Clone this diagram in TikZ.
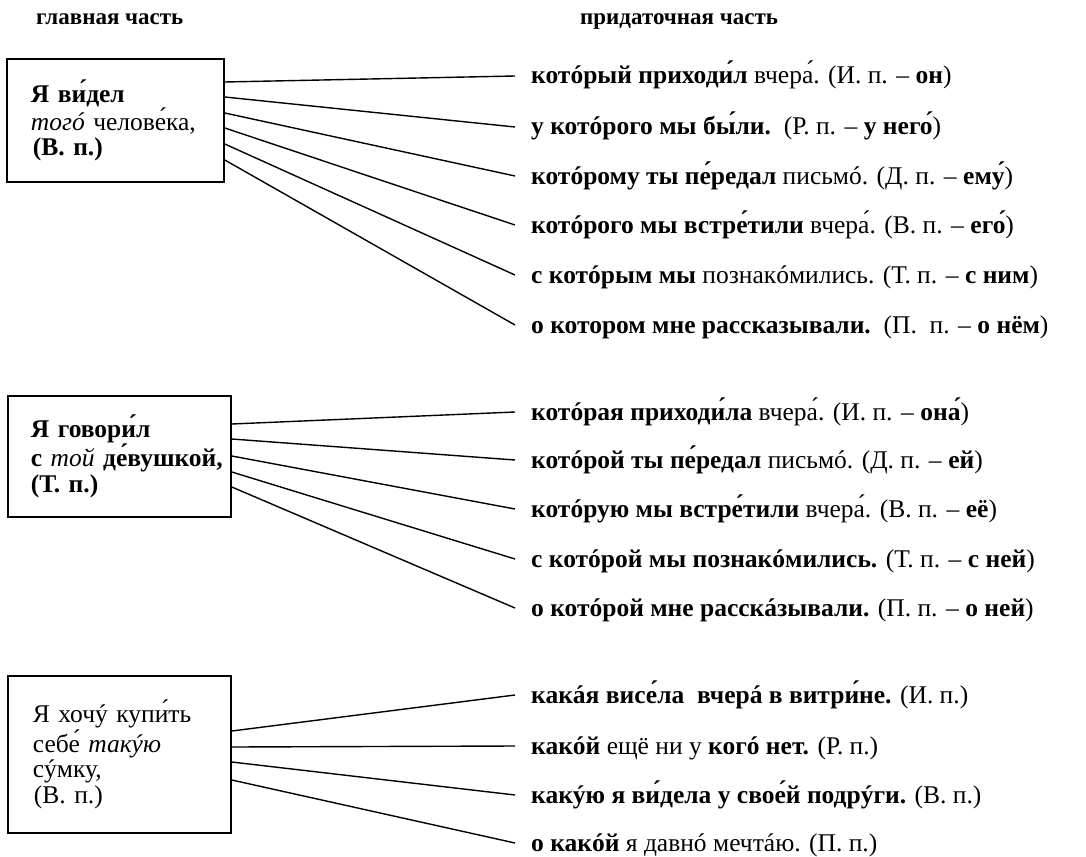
\documentclass[tikz,border=0pt]{standalone}
\usepackage{fontspec}
\setmainfont{Liberation Serif}
\begin{document}
\begin{tikzpicture}[x=1pt,y=-1pt,
  conn/.style={line width=1.4pt},
  boxnode/.style={draw, line width=1.8pt, anchor=north west, inner xsep=0pt, inner ysep=0pt,
     align=left, font=\fontsize{25.5}{25.5}\selectfont},
  rowtext/.style={anchor=base west, inner sep=0pt, font=\fontsize{25.5}{28}\selectfont},
  headtext/.style={anchor=base west, inner sep=0pt, font=\fontsize{23}{26}\selectfont\bfseries}]
\useasboundingbox (0,0) rectangle (1086,856);
\node[headtext] (h1) at (36,25) {главная часть};
\node[headtext] (h2) at (580,25) {придаточная часть};
% box 1
\node[boxnode, text width=217pt, minimum height=123pt] (b1) at (6,58)
 {\hspace*{24pt}\textbf{Я ви́дел}\\ \hspace*{24pt}\textit{тогó} челове́ка,\\ \hspace*{26pt}\textbf{(В. п.)}};
% box 2
\node[boxnode, text width=223pt, minimum height=121pt] (b2) at (7,395)
 {\hspace*{23pt}\textbf{Я говори́л}\\ \hspace*{23pt}\textbf{с} \textit{той} \textbf{де́вушкой,}\\ \hspace*{23pt}\textbf{(Т. п.)}};
% box 3
\node[boxnode, text width=223pt, minimum height=157pt] (b3) at (7,675)
 {\hspace*{25pt}Я хочý купи́ть\\ \hspace*{25pt}себе́ \textit{такýю}\\ \hspace*{25pt}сýмку,\\ \hspace*{26pt}(В. п.)};
% row end points
\foreach \n/\y in {11/76,12/127,13/176,14/225,15/275,16/325,
                   21/412,22/460,23/509,24/559,25/608,
                   31/695,32/746,33/795,34/843}{
  \coordinate (e\n) at (515,\y);
}
\node[rowtext] (t11) at (531,84) {\textbf{котóрый приходи́л} вчера́. (И. п. – \textbf{он})};
\node[rowtext] (t12) at (531,135) {\textbf{у котóрого мы бы́ли.}\enspace (Р. п. – \textbf{у него́})};
\node[rowtext] (t13) at (531,184) {\textbf{котóрому ты пе́редал} письмó. (Д. п. – \textbf{ему́})};
\node[rowtext] (t14) at (531,233) {\textbf{котóрого мы встре́тили} вчера́. (В. п. – \textbf{его́})};
\node[rowtext] (t15) at (531,283) {\textbf{с котóрым мы} познакóмились. (Т. п. – \textbf{с ним})};
\node[rowtext] (t16) at (531,333) {\textbf{о котором мне рассказывали.}\enspace (П.\enspace п. – \textbf{о нём})};
\node[rowtext] (t21) at (531,420) {\textbf{котóрая приходи́ла} вчера́. (И. п. – \textbf{она́})};
\node[rowtext] (t22) at (531,468) {\textbf{котóрой ты пе́редал} письмó. (Д. п. – \textbf{ей})};
\node[rowtext] (t23) at (531,517) {\textbf{котóрую мы встре́тили} вчера́. (В. п. – \textbf{её})};
\node[rowtext] (t24) at (531,567) {\textbf{с котóрой мы познакóмились.} (Т. п. – \textbf{с ней})};
\node[rowtext] (t25) at (531,616) {\textbf{о котóрой мне расскáзывали.} (П. п. – \textbf{о ней})};
\node[rowtext] (t31) at (531,703) {\textbf{какáя висе́ла\enspace вчерá в витри́не.} (И. п.)};
\node[rowtext] (t32) at (531,754) {\textbf{какóй} ещё ни у \textbf{когó нет.} (Р. п.)};
\node[rowtext] (t33) at (531,803) {\textbf{какýю я ви́дела у свое́й подрýги.} (В. п.)};
\node[rowtext] (t34) at (531,851) {\textbf{о какóй} я давнó мечтáю. (П. п.)};
% connectors
\foreach \n/\d in {11/24,12/39,13/55,14/70,15/86,16/102}{
  \draw[conn] ([yshift=-\d pt]b1.north east) -- (e\n);
}
\foreach \n/\d in {21/29,22/44,23/61,24/77,25/92}{
  \draw[conn] ([yshift=-\d pt]b2.north east) -- (e\n);
}
\foreach \n/\d in {31/56,32/72,33/87,34/105}{
  \draw[conn] ([yshift=-\d pt]b3.north east) -- (e\n);
}
\end{tikzpicture}
\end{document}
